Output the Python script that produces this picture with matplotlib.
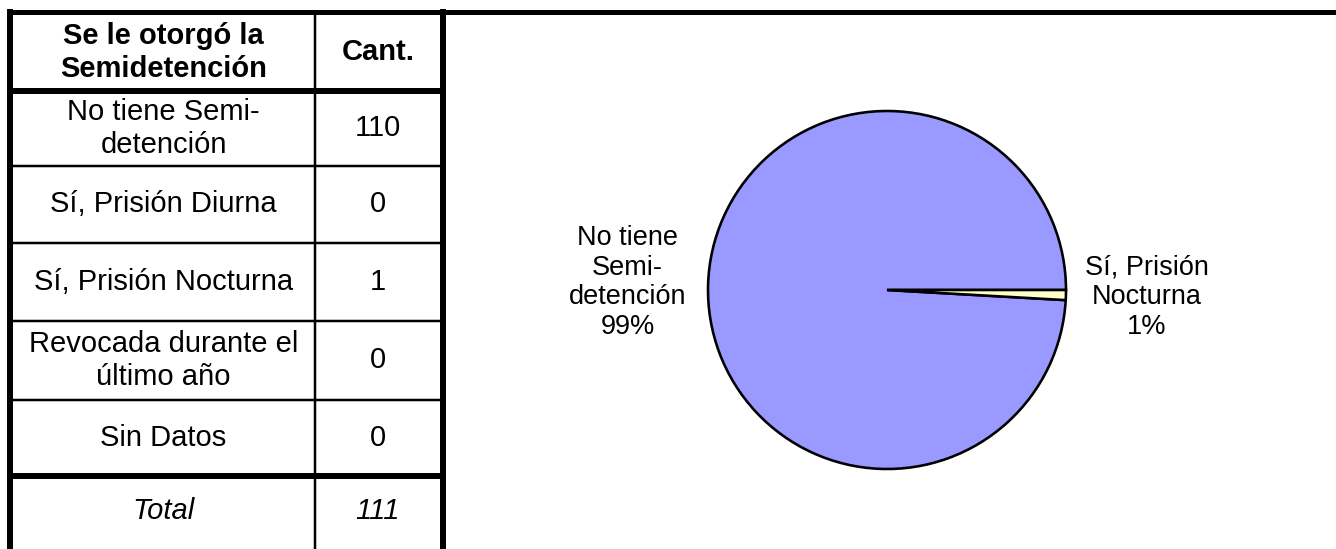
import numpy as np
import matplotlib
matplotlib.use("Agg")
import matplotlib.pyplot as plt

plt.rcParams["font.family"] = ["Liberation Sans", "DejaVu Sans"]

# data
header = ["Se le otorgó la\nSemidetención", "Cant."]
categories = ["No tiene Semi-\ndetención", "Sí, Prisión Diurna", "Sí, Prisión Nocturna",
              "Revocada durante el\núltimo año", "Sin Datos"]
counts = [110, 0, 1, 0, 0]
pie_labels = ["No tiene\nSemi-\ndetención", "Sí, Prisión Diurna", "Sí, Prisión\nNocturna",
              "Revocada durante el último año", "Sin Datos"]
pie_colors = ["#9999FF", "#993366", "#FFFFCC", "#CCFFFF", "#660066"]

W, H = 1336, 549
fig = plt.figure(figsize=(W / 100, H / 100), dpi=100)

# table drawn in pixel coordinates
ax0 = fig.add_axes([0, 0, 1, 1])
ax0.set_xlim(0, W)
ax0.set_ylim(H, 0)
ax0.axis("off")

px = 0.72  # points per pixel
xl, xm, xr = 10, 315, 443
row_edges = [12, 90.5, 166, 243, 321, 400, 475.5, 549]

ax0.plot([7, W], [12, 12], color="black", lw=5 * px, solid_capstyle="butt")
ax0.plot([xl, xl], [9, H], color="black", lw=6 * px, solid_capstyle="butt")
ax0.plot([xr, xr], [9, H], color="black", lw=6 * px, solid_capstyle="butt")
ax0.plot([xm, xm], [12, H], color="black", lw=2.5 * px, solid_capstyle="butt")
for i, y in enumerate(row_edges[1:-1]):
    thick = i == 0 or i == len(row_edges) - 3
    ax0.plot([xl, xr], [y, y], color="black", lw=(6 if thick else 2.5) * px,
             solid_capstyle="butt")

c1 = (xl + xm) / 2 + 1
c2 = (xm + xr) / 2 - 1
fs = 21
ls = 1.22
yc = (row_edges[0] + row_edges[1]) / 2 + 1
ax0.text(c1, yc, header[0], ha="center", va="center", fontsize=fs, fontweight="bold",
         linespacing=ls)
ax0.text(c2, yc, header[1], ha="center", va="center", fontsize=fs, fontweight="bold")
for i, (cat, n) in enumerate(zip(categories, counts)):
    yc = (row_edges[i + 1] + row_edges[i + 2]) / 2
    ax0.text(c1, yc, cat, ha="center", va="center", fontsize=fs, linespacing=ls)
    ax0.text(c2, yc, str(n), ha="center", va="center", fontsize=fs)
yc = 511
ax0.text(c1, yc, "Total", ha="center", va="center", fontsize=fs, style="italic")
ax0.text(c2, yc, str(sum(counts)), ha="center", va="center", fontsize=fs, style="italic")

# pie
cx, cy, R = 887, 290, 179
axp = fig.add_axes([(cx - R) / W, (H - cy - R) / H, 2 * R / W, 2 * R / H])
vals = [v for v in counts if v > 0]
total = sum(counts)
labs = [f"{l}\n{v / total * 100:.0f}%" for l, v in zip(pie_labels, counts) if v > 0]
cols = [c for c, v in zip(pie_colors, counts) if v > 0]
wedges, texts = axp.pie(vals, labels=labs, colors=cols, startangle=0, counterclock=True,
                        labeldistance=1.45,
                        wedgeprops=dict(edgecolor="black", linewidth=2.6 * px),
                        textprops=dict(fontsize=19.5, linespacing=1.18))
for t in texts:
    t.set_ha("center")
    t.set_multialignment("center")
axp.set_xlim(-1, 1)
axp.set_ylim(-1, 1)
axp.axis("off")

fig.savefig("out.png", dpi=100)
